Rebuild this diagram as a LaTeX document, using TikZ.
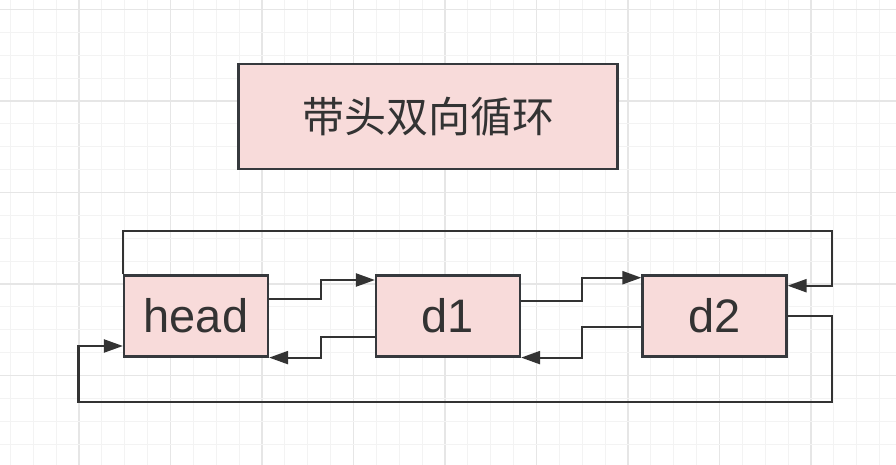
\documentclass[tikz,border=0pt]{standalone}
\usepackage{fontspec}
\setmainfont{Liberation Sans}
\newfontfamily\cjk{Noto Sans CJK SC}
\usetikzlibrary{arrows.meta}
\definecolor{boxfill}{HTML}{F8DBDA}
\definecolor{boxline}{HTML}{36393D}
\definecolor{txt}{HTML}{333333}
\definecolor{gridminor}{HTML}{F3F3F3}
\definecolor{gridmajor}{HTML}{E6E6E6}
\tikzset{
  listbox/.style={draw=boxline, line width=2.2pt, fill=boxfill, minimum width=#1, minimum height=81pt, inner sep=0pt, text=txt, font=\fontsize{47}{47}\selectfont},
  titlebox/.style={draw=boxline, line width=2.2pt, fill=boxfill, minimum width=379pt, minimum height=105pt, inner sep=0pt, text=txt, font=\cjk\fontsize{42}{42}\selectfont},
  link/.style={draw=txt, line width=2.2pt, -{Triangle[length=19pt,width=13pt]}},
}
\begin{document}
\begin{tikzpicture}[x=1pt,y=-1pt]
\useasboundingbox (0,0) rectangle (896,465);
\fill[white] (0,0) rectangle (896,465);
% grid
\foreach \i in {-3,...,36}{
  \pgfmathsetmacro{\gx}{79+22.875*\i}
  \pgfmathtruncatemacro{\m}{mod(\i+40,4)}
  \ifnum\m=0 \draw[gridmajor,line width=1.2pt] (\gx,0) -- (\gx,465);
  \else \draw[gridminor,line width=1pt] (\gx,0) -- (\gx,465); \fi
}
\foreach \j in {-4,...,16}{
  \pgfmathsetmacro{\gy}{101+22.875*\j}
  \pgfmathtruncatemacro{\m}{mod(\j+40,4)}
  \ifnum\m=0 \draw[gridmajor,line width=1.2pt] (0,\gy) -- (896,\gy);
  \else \draw[gridminor,line width=1pt] (0,\gy) -- (896,\gy); \fi
}
% nodes
\node[titlebox] (title) at (428,116.5) {带头双向循环};
\node[listbox=144pt] (head) at (196,316) {head};
\node[listbox=144pt] (d1) at (448,316) {d1};
\node[listbox=144pt] (d2) at (714.5,316) {d2};
% helper coordinates
\coordinate (a1) at (321,0);
\coordinate (a2) at (582,0);
\coordinate (rx) at (832,0);
\coordinate (lx) at (78.5,0);
% head -> d1
\draw[link] ([yshift=16.7pt]head.east) -| (a1 |- 0,280) -- (d1.west |- 0,280);
% d1 -> head
\draw[link] ([yshift=-20.7pt]d1.west) -| (a1 |- head.south east) -- (head.south east);
% d1 -> d2
\draw[link] ([yshift=15pt]d1.east) -| (a2 |- 0,277.7) -- (d2.west |- 0,277.7);
% d2 -> d1
\draw[link] ([yshift=-10.7pt]d2.west) -| (a2 |- d1.south east) -- (d1.south east);
% head -> d2 (top loop)
\draw[link] (head.north west) -- (head.north west |- 0,230.7) -| (rx |- 0,285.7) -- (d2.east |- 0,285.7);
% d2 -> head (bottom loop)
\draw[link] (d2.east |- 0,316) -| (rx |- 0,401.7) -| (lx |- 0,346) -- (head.west |- 0,346);
\end{tikzpicture}
\end{document}
